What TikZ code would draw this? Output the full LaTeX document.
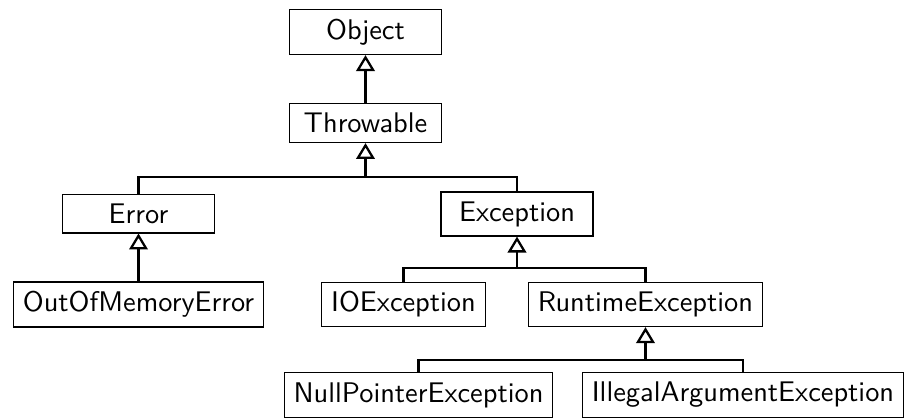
\documentclass[tikz,border=0pt]{standalone}
\usetikzlibrary{arrows.meta}

\begin{document}
\begin{tikzpicture}[x=0.352pt,y=0.352pt,yscale=-1,xscale=1,
  cls/.style={draw,line width=0.4pt,minimum width=53.5pt,font=\sffamily,inner sep=3.33pt},
  link/.style={line width=0.8pt},
  inherit/.style={link,-{Triangle[open,width=6.5pt,length=5.6pt,line width=0.8pt]}}]
\useasboundingbox (0,0) rectangle (906,417);

% Class Nodes
\node[cls] (obj) at (365.5,32) {Object};
\node[cls] (thr) at (365.5,123) {Throwable};
\node[cls] (err) at (138.5,213.5) {Error};
\node[cls] (exc) at (517,214) {Exception};
\node[cls] (oom) at (138.5,304.5) {OutOfMemoryError};
\node[cls] (ioe) at (403.5,304.5) {IOException};
\node[cls] (rte) at (645.5,304.5) {RuntimeException};
\node[cls] (npe) at (418.5,395) {NullPointerException};
\node[cls] (iae) at (743,395) {IllegalArgumentException};

% Branch points
\coordinate (thrbar) at (365.5,177);
\coordinate (excbar) at (517,268);
\coordinate (rtebar) at (645.5,360);

%Straight Lines
\draw[inherit] (thr) -- (obj);
\draw[link] (err.north) |- (thrbar) -| (exc.north);
\draw[inherit] (thrbar) -- (thr);
\draw[inherit] (oom) -- (err);
\draw[link] (ioe.north) |- (excbar) -| (rte.north);
\draw[inherit] (excbar) -- (exc);
\draw[link] (npe.north) |- (rtebar) -| (iae.north);
\draw[inherit] (rtebar) -- (rte);

\end{tikzpicture}
\end{document}
